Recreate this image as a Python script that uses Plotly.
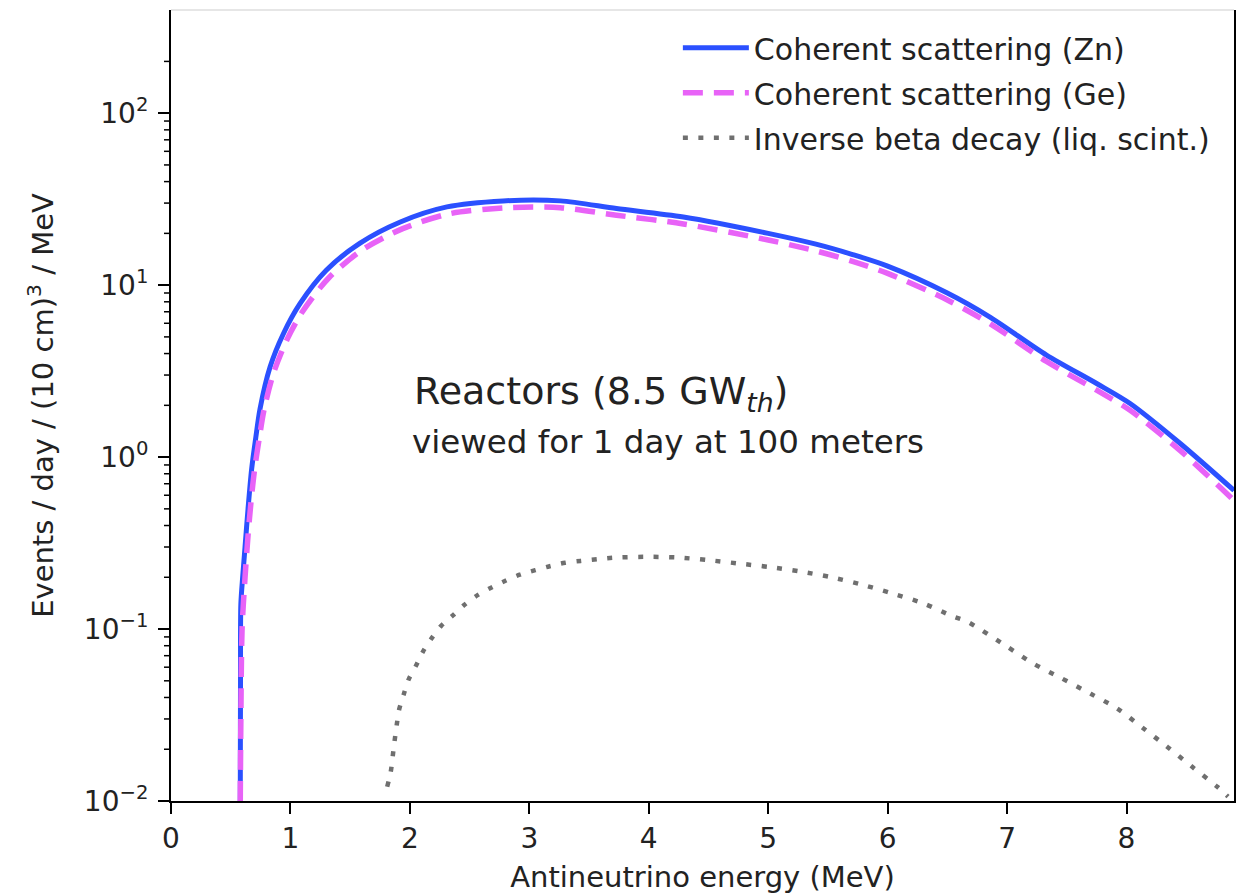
import math
import plotly.graph_objects as go

# Antineutrino energy (MeV) and event rates
zn_energy = [0.58, 0.582, 0.585, 0.60, 0.62, 0.645, 0.675, 0.71, 0.745, 0.83, 0.94, 1.08, 1.30,
             1.58, 1.92, 2.31, 2.78, 3.26, 3.73, 4.29, 5.00, 5.40, 5.70, 6.00, 6.50, 6.86,
             7.33, 7.75, 8.03, 8.45, 8.90]
zn_rate = [0.01, 0.05, 0.14, 0.20, 0.30, 0.50, 0.85, 1.3, 1.9, 3.35, 5.2, 7.8, 12.2,
           17.5, 23.3, 28.5, 30.9, 30.9, 27.9, 24.9, 20.0, 17.3, 15.1, 12.9, 9.0, 6.5,
           3.92, 2.68, 2.05, 1.2, 0.64]

ge_energy = [0.58, 0.585, 0.595, 0.62, 0.645, 0.67, 0.70, 0.74, 0.78, 0.86, 0.97, 1.10, 1.32,
             1.60, 1.94, 2.33, 2.80, 3.26, 3.73, 4.29, 5.00, 5.40, 5.70, 6.00, 6.50, 6.86,
             7.33, 7.75, 8.03, 8.45, 8.90]
ge_rate = [0.01, 0.03, 0.10, 0.20, 0.35, 0.55, 0.85, 1.3, 1.9, 3.1, 4.8, 7.0, 11.0,
           16.0, 21.3, 26.0, 28.2, 28.2, 25.5, 22.7, 18.3, 15.8, 13.8, 11.7, 8.2, 5.95,
           3.6, 2.45, 1.87, 1.09, 0.56]

ibd_energy = [1.81, 1.84, 1.865, 1.89, 1.91, 1.95, 1.99, 2.05, 2.11, 2.18, 2.26, 2.36, 2.46,
              2.57, 2.68, 2.80, 2.92, 3.05, 3.17, 3.30, 3.43, 3.57, 3.70, 3.96, 4.23, 4.49,
              4.74, 5.02, 5.27, 5.53, 5.80, 6.04, 6.30, 6.54, 6.67, 7.00, 7.22, 7.45, 7.70,
              7.92, 8.14, 8.34, 8.55, 8.76, 8.85]
ibd_rate = [0.0121, 0.0148, 0.0205, 0.0277, 0.034, 0.042, 0.051, 0.061, 0.074, 0.088, 0.104,
            0.12, 0.139, 0.158, 0.174, 0.191, 0.207, 0.22, 0.232, 0.243, 0.249, 0.255, 0.26,
            0.263, 0.261, 0.252, 0.241, 0.229, 0.216, 0.2, 0.18, 0.161, 0.141, 0.119, 0.11,
            0.079, 0.063, 0.052, 0.042, 0.0346, 0.0265, 0.0207, 0.0158, 0.0121, 0.0106]

x_ticks = [0, 1, 2, 3, 4, 5, 6, 7, 8]
y_ticks = [0.01, 0.1, 1, 10, 100]
y_tick_labels = ["10<sup>\u22122</sup>", "10<sup>\u22121</sup>", "10<sup>0</sup>",
                 "10<sup>1</sup>", "10<sup>2</sup>"]
y_minor = [m * d for d in [0.01, 0.1, 1, 10] for m in range(2, 10)] + [200]

FONT = "DejaVu Sans"
TXT = "#222222"
X_RANGE = [0, 8.9]
Y_RANGE = [-2, 2.6]
PLOT_W = 1244 - 171 - 10
MINOR_LEN = 7

fig = go.Figure()
fig.add_trace(go.Scatter(x=zn_energy, y=zn_rate, mode="lines", name="Coherent scattering (Zn)",
                         legendgroup="a",
                         line=dict(color="#2b50ff", width=5, shape="spline", smoothing=0.8)))
fig.add_trace(go.Scatter(x=ge_energy, y=ge_rate, mode="lines", name="Coherent scattering (Ge)",
                         legendgroup="b",
                         line=dict(color="#e863f7", width=5.5, dash="20px,11px",
                                   shape="spline", smoothing=0.8)))
fig.add_trace(go.Scatter(x=ibd_energy, y=ibd_rate, mode="lines", name="Inverse beta decay (liq. scint.)",
                         legendgroup="c",
                         line=dict(color="#6f6f6f", width=4.5, dash="5px,10.5px",
                                   shape="spline", smoothing=0.8)))

fig.update_layout(
    width=1244, height=894,
    margin=dict(l=171, r=10, t=10, b=93),
    paper_bgcolor="white", plot_bgcolor="white",
    font=dict(family=FONT, size=28, color=TXT),
    showlegend=True,
    legend=dict(x=0.982, y=0.985, xanchor="right", yanchor="top", bgcolor="rgba(0,0,0,0)",
                font=dict(family=FONT, size=30, color=TXT), tracegroupgap=3, itemwidth=66),
    xaxis=dict(range=X_RANGE, tickvals=x_ticks, ticks="outside", ticklen=11, tickwidth=2,
               tickcolor="black", showline=True, linecolor="black", linewidth=2,
               showgrid=False, zeroline=False, mirror=False, automargin=False,
               title=dict(text="Antineutrino energy (MeV)", standoff=14,
                          font=dict(family=FONT, size=29, color=TXT)),
               tickfont=dict(family=FONT, size=28, color=TXT)),
    yaxis=dict(type="log", range=Y_RANGE, tickmode="array", tickvals=y_ticks,
               ticktext=y_tick_labels,
               ticks="outside", ticklen=11, tickwidth=2, tickcolor="black",
               ticklabelstandoff=4, automargin=False,
               showline=True, linecolor="black", linewidth=2, mirror=True,
               showgrid=False, zeroline=False,
               title=dict(text="Events / day / (10 cm)<sup>3</sup> / MeV", standoff=22,
                          font=dict(family=FONT, size=29, color=TXT)),
               tickfont=dict(family=FONT, size=28, color=TXT)),
)

# minor ticks of the log y axis, placed through the axis' log scale
for v in y_minor:
    frac = (math.log10(v) - Y_RANGE[0]) / (Y_RANGE[1] - Y_RANGE[0])
    fig.add_shape(type="line", xref="paper", yref="paper",
                  x0=-MINOR_LEN / PLOT_W, x1=0, y0=frac, y1=frac,
                  line=dict(color="black", width=1.5), layer="above")

fig.add_shape(type="line", xref="paper", yref="paper", x0=0, x1=1, y0=1, y1=1,
              line=dict(color="#e6e6e6", width=2))

fig.add_annotation(x=2.02, y=0.372, xref="x", yref="y", xanchor="left", yanchor="middle",
                   text="Reactors (8.5 GW<sub><i>th</i></sub>)", showarrow=False,
                   font=dict(family=FONT, size=38, color=TXT))
fig.add_annotation(x=2.0, y=0.09, xref="x", yref="y", xanchor="left", yanchor="middle",
                   text="viewed for 1 day at 100 meters", showarrow=False,
                   font=dict(family=FONT, size=32.5, color=TXT))

fig.write_html("out.html")
